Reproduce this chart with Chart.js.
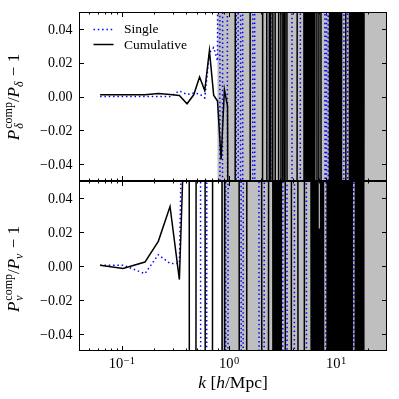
<!DOCTYPE html>
<html>
<head>
<meta charset="utf-8">
<script src="https://cdn.jsdelivr.net/npm/chart.js@4.4.0/dist/chart.umd.min.js"></script>
<style>
  html, body { margin: 0; padding: 0; background: #fff; }
  #wrap { position: relative; width: 399px; height: 399px; }
  canvas { position: absolute; left: 0; top: 0; }
</style>
</head>
<body>
<div id="wrap">
  <canvas id="topPanel" width="399" height="399"></canvas>
  <canvas id="bottomPanel" width="399" height="399"></canvas>
</div>
<script>
// density panel: Cumulative (black) and Single (blue dotted)
const kDeltaCumul = [0.063, 0.103, 0.165, 0.22, 0.283, 0.346, 0.408, 0.471, 0.534, 0.597, 0.66, 0.723, 0.785, 0.848, 0.911, 0.974, 1.037,
  1.136, 1.160, 1.569, 1.603, 2.055, 2.100, 2.239, 2.288, 2.364, 2.415, 2.442, 2.495, 2.550, 2.605, 2.691, 2.750, 2.890, 2.953,
  3.030, 3.096, 3.162, 3.231, 3.287, 3.330, 3.374, 3.463, 3.538, 4.296, 4.390,
  4.97, 5.10, 5.24, 5.38, 5.52, 5.66, 5.81, 5.96, 6.12, 6.28, 6.44,
  6.58, 6.73, 6.87, 7.02, 7.18, 7.33,
  8.60, 8.82, 9.06, 9.29, 9.54, 9.79, 10.04, 10.31, 10.58, 10.85, 11.14, 11.43,
  12.25, 12.51,
  13.23, 13.58, 13.94, 14.30, 14.68, 15.06, 15.46, 15.86, 16.28, 16.71, 17.14, 17.59, 18.05, 18.53];
const deltaCumul = [0.001, 0.001, 0.001, 0.0018, 0.0012, 0.0006, -0.0043, 0.001, 0.0115, 0.0035, 0.0272, 0.0008, -0.0027, -0.0373, 0.0041, -0.0057, -0.45,
  -0.6, 0.5, 0.4, -0.5, -0.3, 0.6, 0.5, -0.4, -0.5, 0.5, 0.4, -0.5, -0.5, 0.5, 0.4, -0.6, -0.5, 0.5,
  0.6, -0.4, -0.5, 0.5, 0.5, -0.5, 0.4, 0.4, -0.5, -0.6, 0.5,
  0.5, -0.5, 0.6, -0.4, 0.5, -0.5, 0.4, -0.6, 0.5, -0.5, 0.5,
  0.5, -0.5, -0.4, 0.5, 0.6, -0.5,
  -0.5, 0.4, -0.5, 0.6, -0.5, 0.5, -0.4, 0.5, -0.6, 0.5, -0.5, 0.4,
  0.5, -0.5,
  -0.4, 0.5, -0.6, 0.5, -0.5, 0.4, -0.5, 0.6, -0.5, 0.5, -0.4, 0.5, -0.5, 0.5];

const kDeltaSingle = [0.063, 0.103, 0.165, 0.22, 0.283, 0.346, 0.408, 0.471, 0.534, 0.597, 0.66, 0.723, 0.785,
  0.806, 0.819, 0.836, 0.867, 0.886, 0.962, 0.983, 1.160, 1.186, 1.212, 1.238, 1.279, 1.306, 1.335, 1.364,
  1.656, 1.692, 1.729, 1.767, 2.442, 2.495, 3.856, 3.940, 4.612, 4.712, 5.910, 6.039, 6.131, 6.265,
  7.822, 7.992, 8.096, 8.273, 8.381, 8.563, 11.73, 11.99, 12.76, 13.04, 13.55, 13.85, 15.10, 15.42, 16.81, 17.18, 18.53];
const deltaSingle = [0, 0, 0, 0, 0, 0.0033, 0.0012, 0.002, 0.0015, -0.0008, 0.026, 0.029, 0.021,
  0.35, 0.4, -0.5, -0.4, 0.5, 0.5, -0.6, -0.5, 0.4, 0.5, -0.5, -0.4, 0.6, 0.5, -0.5,
  -0.5, 0.4, 0.5, -0.6, -0.5, 0.5, 0.4, -0.5, -0.5, 0.6, 0.5, -0.4, -0.5, 0.5,
  0.5, -0.5, -0.4, 0.5, 0.6, -0.5, -0.5, 0.4, 0.5, -0.6, -0.5, 0.5, 0.5, -0.4, -0.5, 0.5, 0.5];

// velocity panel
const kVelCumul = [0.063, 0.103, 0.165, 0.22, 0.283, 0.346, 0.408,
  0.424, 0.433, 0.490, 0.501, 0.595, 0.608, 0.699, 0.714, 0.858, 0.877, 0.906, 0.925, 1.238, 1.265, 1.455, 1.487, 2.011, 2.055, 2.328, 2.379, 2.550, 2.605,
  2.684, 2.755, 2.827, 2.901, 2.977, 3.055, 3.135,
  3.337, 3.410, 3.798, 3.881, 4.370, 4.465, 5.027, 5.137,
  5.783, 5.935, 6.090, 6.250, 6.414, 6.583, 6.754, 6.857, 6.991, 7.129, 7.206, 7.395, 7.588, 7.754,
  8.201, 8.381, 8.599, 8.824, 9.056, 9.293, 9.537, 9.787, 10.04, 10.31, 10.58, 10.85, 11.14, 11.43, 11.73, 12.04,
  12.35, 12.68, 13.01, 13.35, 13.70, 14.06, 14.43, 15.00, 15.39, 15.79, 16.21, 16.63, 17.07, 17.52, 17.98, 18.45];
const velCumul = [0.0004, -0.0014, 0.0023, 0.0145, 0.035, -0.008, 0.13,
  0.4, -0.5, -0.4, 0.5, 0.6, -0.5, -0.4, 0.5, 0.5, -0.6, -0.5, 0.4, 0.5, -0.5, -0.6, 0.5, 0.4, -0.5, -0.5, 0.6, 0.5, -0.4,
  0.5, -0.5, 0.6, -0.4, 0.5, -0.5, 0.5,
  0.4, -0.5, -0.6, 0.5, 0.5, -0.4, -0.5, 0.5,
  0.6, -0.5, 0.5, -0.4, 0.5, -0.5, 0.6, -0.5, 0.022, -0.5, 0.5, -0.4, 0.5, -0.5,
  -0.4, 0.5, -0.5, 0.6, -0.5, 0.5, -0.4, 0.5, -0.5, 0.6, -0.5, 0.5, -0.4, 0.5, -0.5, 0.5,
  -0.6, 0.5, -0.5, 0.4, -0.5, 0.5, -0.5, -0.5, 0.5, -0.4, 0.5, -0.5, 0.6, -0.5, 0.5, -0.5];

const kVelSingle = [0.063, 0.103, 0.165, 0.22, 0.283, 0.346, 0.408,
  0.540, 0.552, 0.617, 0.630, 0.925, 0.945, 0.972, 0.994, 1.292, 1.321, 1.349, 1.379, 1.897, 1.938, 2.122, 2.168,
  2.791, 2.851, 3.162, 3.231, 3.463, 3.538, 4.052, 4.140, 5.249, 5.363, 7.992, 8.166, 14.55, 14.87, 18.45];
const velSingle = [0.0005, 0.0005, -0.0045, 0.0066, 0.0015, 0.0015, 0.25,
  0.5, -0.5, -0.4, 0.5, 0.6, -0.5, -0.5, 0.4, 0.5, -0.6, -0.5, 0.5, 0.4, -0.5, -0.5, 0.6,
  0.5, -0.4, -0.5, 0.5, 0.5, -0.5, -0.6, 0.5, 0.5, -0.4, -0.5, 0.5, 0.5, -0.5, -0.5];

// shaded region starts (k in h/Mpc)
const shadeDelta = 0.785;
const shadeVel = 0.848;

// axes
const yTicks = [-0.04, -0.02, 0, 0.02, 0.04];
const yTickLabels = ["\u22120.04", "\u22120.02", "0.00", "0.02", "0.04"];
const xMajor = [0.1, 1, 10];
const xMajorExp = ["\u22121", "0", "1"];
const xMinor = [0.05, 0.06, 0.07, 0.08, 0.09, 0.2, 0.3, 0.4, 0.5, 0.6, 0.7, 0.8, 0.9,
  2, 3, 4, 5, 6, 7, 8, 9, 20];

const SERIF = "'Liberation Serif', 'DejaVu Serif', serif";
const rm = (s) => s + "px " + SERIF;
const it = (s) => "italic " + s + "px " + SERIF;

function toPoints(ks, vs) {
  return ks.map((k, i) => ({ x: k, y: vs[i] }));
}

// draw a row of text pieces; a piece with "stack" puts sup/sub at the same x
function drawRow(ctx, items, x0, y0) {
  let w = 0;
  const widths = items.map((p) => {
    if (p.stack) {
      const ws = p.stack.map((q) => { ctx.font = q.f; return ctx.measureText(q.t).width; });
      return Math.max(...ws) + (p.pad || 0);
    }
    ctx.font = p.f;
    return ctx.measureText(p.t).width + (p.pad || 0);
  });
  widths.forEach((v) => (w += v));
  let x = x0 === null ? -w / 2 : x0;
  items.forEach((p, i) => {
    if (p.stack) {
      p.stack.forEach((q) => { ctx.font = q.f; ctx.fillText(q.t, x + (p.pad || 0), y0 + (q.dy || 0)); });
    } else {
      ctx.font = p.f;
      ctx.fillText(p.t, x, y0 + (p.dy || 0));
    }
    x += widths[i];
  });
  return w;
}

function drawYTitle(ctx, cx, cy, sub) {
  ctx.save();
  ctx.translate(cx, cy);
  ctx.rotate(-Math.PI / 2);
  ctx.textAlign = "left";
  ctx.textBaseline = "alphabetic";
  drawRow(ctx, [
    { t: "P", f: it(17) },
    { stack: [{ t: "comp", f: rm(12), dy: -7 }, { t: sub, f: it(12), dy: 4 }], pad: 1 },
    { t: "/", f: rm(17) },
    { t: "P", f: it(17) },
    { t: sub, f: it(12), dy: 4, pad: 1 },
    { t: " \u2212 1", f: rm(17) }
  ], null, 0);
  ctx.restore();
}

const decor = {
  id: "decor",
  beforeDatasetsDraw(chart, args, o) {
    const { ctx, chartArea: a } = chart;
    const x0 = chart.scales.x.getPixelForValue(o.shadeFrom);
    ctx.save();
    ctx.fillStyle = "#bfbfbf";
    ctx.fillRect(x0, a.top, a.right - x0, a.bottom - a.top);
    ctx.restore();
  },
  afterDraw(chart, args, o) {
    const { ctx, chartArea: a } = chart;
    const xs = chart.scales.x, ys = chart.scales.y;
    ctx.save();
    ctx.strokeStyle = "#000";
    ctx.lineWidth = 1;
    ctx.setLineDash([]);
    ctx.beginPath();
    xMajor.forEach((v) => {
      const p = Math.round(xs.getPixelForValue(v)) + 0.5;
      ctx.moveTo(p, a.top); ctx.lineTo(p, a.top + 5);
      ctx.moveTo(p, a.bottom); ctx.lineTo(p, a.bottom - 5);
    });
    xMinor.forEach((v) => {
      const p = Math.round(xs.getPixelForValue(v)) + 0.5;
      ctx.moveTo(p, a.top); ctx.lineTo(p, a.top + 2.5);
      ctx.moveTo(p, a.bottom); ctx.lineTo(p, a.bottom - 2.5);
    });
    yTicks.forEach((v) => {
      const p = Math.round(ys.getPixelForValue(v)) + 0.5;
      ctx.moveTo(a.left, p); ctx.lineTo(a.left + 5, p);
      ctx.moveTo(a.right, p); ctx.lineTo(a.right - 5, p);
    });
    ctx.stroke();
    ctx.strokeRect(a.left + 0.5, a.top + 0.5, a.right - a.left - 1, a.bottom - a.top - 1);

    ctx.fillStyle = "#000";
    ctx.font = rm(14);
    ctx.textAlign = "right";
    ctx.textBaseline = "alphabetic";
    yTicks.forEach((v, i) => {
      ctx.fillText(yTickLabels[i], a.left - 6.5, ys.getPixelForValue(v) + 4.7);
    });
    ctx.textAlign = "left";

    drawYTitle(ctx, 18.5, o.titleY, o.sub);

    if (o.legend) {
      ctx.lineWidth = 1.5;
      ctx.strokeStyle = "#0000ff";
      ctx.setLineDash([1.5, 2.8]);
      ctx.beginPath(); ctx.moveTo(93.5, 29.5); ctx.lineTo(113.5, 29.5); ctx.stroke();
      ctx.setLineDash([]);
      ctx.strokeStyle = "#000";
      ctx.lineWidth = 1.5;
      ctx.beginPath(); ctx.moveTo(93.5, 44.5); ctx.lineTo(113.5, 44.5); ctx.stroke();
      ctx.font = rm(13.5);
      ctx.fillText("Single", 124, 33);
      ctx.fillText("Cumulative", 124, 48.5);
    }

    if (o.xAxis) {
      xMajor.forEach((v, i) => {
        const p = xs.getPixelForValue(v);
        ctx.font = rm(14.5);
        const w1 = ctx.measureText("10").width;
        ctx.font = rm(10.5);
        const w2 = ctx.measureText(xMajorExp[i]).width;
        const s = p - (w1 + w2) / 2;
        ctx.font = rm(14.5);
        ctx.fillText("10", s, 368);
        ctx.font = rm(10.5);
        ctx.fillText(xMajorExp[i], s + w1 + 0.5, 363.5);
      });
      ctx.save();
      ctx.translate((a.left + a.right) / 2, 388);
      drawRow(ctx, [
        { t: "k", f: it(17.5) },
        { t: " [", f: rm(17.5) },
        { t: "h", f: it(17.5) },
        { t: "/Mpc]", f: rm(17.5) }
      ], null, 0);
      ctx.restore();
    }
    ctx.restore();
  }
};

function makePanel(id, cumK, cumV, sinK, sinV, pad, opts) {
  return new Chart(document.getElementById(id), {
    type: "line",
    data: {
      datasets: [
        {
          label: "Cumulative",
          data: toPoints(cumK, cumV),
          borderColor: "#000",
          borderWidth: 1.5,
          pointRadius: 0,
          tension: 0,
          fill: false
        },
        {
          label: "Single",
          data: toPoints(sinK, sinV),
          borderColor: "#0000ff",
          borderWidth: 1.5,
          borderDash: [1.5, 2.8],
          pointRadius: 0,
          tension: 0,
          fill: false
        }
      ]
    },
    options: {
      responsive: false,
      animation: false,
      devicePixelRatio: 1,
      layout: { padding: pad },
      events: [],
      plugins: {
        legend: { display: false },
        tooltip: { enabled: false },
        decor: opts
      },
      scales: {
        x: { type: "logarithmic", min: 0.04, max: 30, display: false },
        y: { type: "linear", min: -0.05, max: 0.05, display: false }
      }
    },
    plugins: [decor]
  });
}

makePanel("topPanel", kDeltaCumul, deltaCumul, kDeltaSingle, deltaSingle,
  { left: 79, right: 12, top: 12, bottom: 218 },
  { shadeFrom: shadeDelta, sub: "\u03b4", titleY: 97, legend: true, xAxis: false });

makePanel("bottomPanel", kVelCumul, velCumul, kVelSingle, velSingle,
  { left: 79, right: 12, top: 181, bottom: 48 },
  { shadeFrom: shadeVel, sub: "v", titleY: 269, legend: false, xAxis: true });
</script>
</body>
</html>
